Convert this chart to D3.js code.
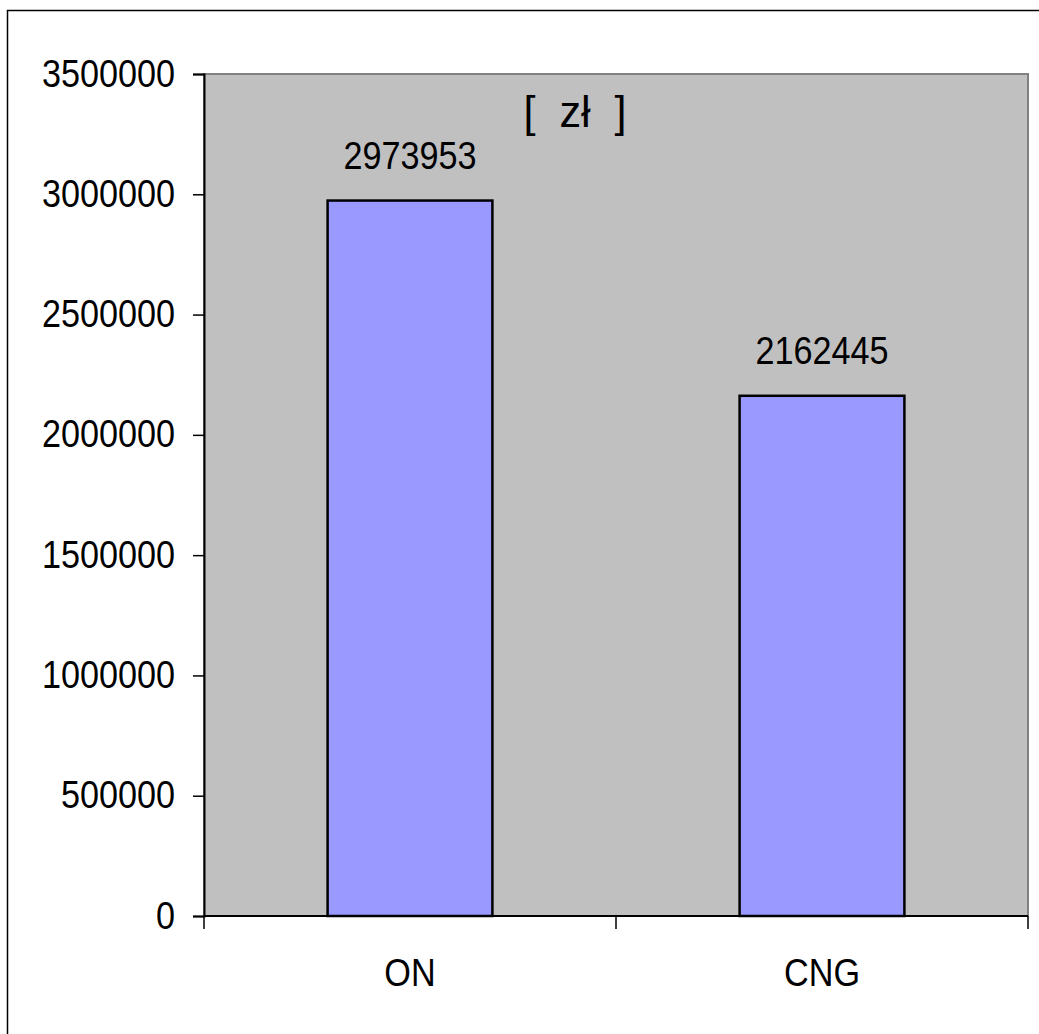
<!DOCTYPE html>
<html>
<head>
<meta charset="utf-8">
<script src="https://cdn.jsdelivr.net/npm/d3@7/dist/d3.min.js"></script>
<style>
  html, body { margin: 0; padding: 0; background: #ffffff; }
  svg { display: block; }
  text { font-family: "Liberation Sans", Arial, sans-serif; fill: #000; }
</style>
</head>
<body>
<svg id="chart" width="1039" height="1034"></svg>
<script>
// Fuel cost comparison, values in złoty
const categories = ["ON", "CNG"];
const values = [2973953, 2162445];
const yTicks = [0, 500000, 1000000, 1500000, 2000000, 2500000, 3000000, 3500000];
const unitLabel = "[  zł  ]";

const svg = d3.select("#chart");
const W = 1039, H = 1034;
const plot = { left: 204, top: 74, right: 1028, bottom: 916 };
const FONT = 38, SX = 0.9;   // slightly condensed glyphs

// Chart frame (runs off the right and bottom edges)
svg.append("rect")
  .attr("x", 7.5).attr("y", 10.5)
  .attr("width", W + 20).attr("height", H + 20)
  .attr("fill", "#fff").attr("stroke", "#000").attr("stroke-width", 1.5);

const x = d3.scaleBand()
  .domain(categories)
  .range([plot.left, plot.right])
  .paddingInner(0.6)
  .paddingOuter(0.3);

const y = d3.scaleLinear()
  .domain([0, 3500000])
  .range([plot.bottom, plot.top]);

// Plot area
svg.append("rect")
  .attr("x", plot.left).attr("y", plot.top)
  .attr("width", plot.right - plot.left).attr("height", plot.bottom - plot.top)
  .attr("fill", "#c0c0c0").attr("stroke", "#808080").attr("stroke-width", 2);

// Bars
svg.selectAll("rect.bar")
  .data(values)
  .join("rect")
  .attr("class", "bar")
  .attr("x", (d, i) => x(categories[i]))
  .attr("y", d => y(d))
  .attr("width", x.bandwidth())
  .attr("height", d => y(0) - y(d))
  .attr("fill", "#9999ff")
  .attr("stroke", "#000").attr("stroke-width", 2.5);

// Y axis
const yAxis = d3.axisLeft(y).tickValues(yTicks).tickSize(11).tickPadding(18)
  .tickFormat(d3.format("d"));
const gy = svg.append("g").attr("transform", `translate(${plot.left},0)`).call(yAxis);
gy.select(".domain").attr("stroke", "#000").attr("stroke-width", 2);
gy.selectAll(".tick line").attr("stroke", "#000").attr("stroke-width", 1.5);
gy.selectAll(".tick text")
  .attr("font-size", FONT).attr("font-family", "Liberation Sans, Arial, sans-serif")
  .attr("dy", null)
  .attr("transform", function() {
    const tx = +d3.select(this).attr("x");
    d3.select(this).attr("x", 0).attr("y", 0);
    return `translate(${tx},12) scale(${SX},1)`;
  });

// X axis: baseline with ticks at band boundaries
const xBounds = [plot.left, (plot.left + plot.right) / 2, plot.right];
svg.append("line")
  .attr("x1", plot.left).attr("x2", plot.right)
  .attr("y1", plot.bottom).attr("y2", plot.bottom)
  .attr("stroke", "#000").attr("stroke-width", 2);
svg.selectAll("line.xtick")
  .data(xBounds)
  .join("line")
  .attr("class", "xtick")
  .attr("x1", d => d).attr("x2", d => d)
  .attr("y1", plot.bottom).attr("y2", plot.bottom + 13)
  .attr("stroke", "#000").attr("stroke-width", 1.5);

svg.selectAll("text.xlabel")
  .data(categories)
  .join("text")
  .attr("class", "xlabel")
  .attr("text-anchor", "middle")
  .attr("font-size", FONT)
  .attr("transform", d => `translate(${x(d) + x.bandwidth() / 2},986) scale(${SX},1)`)
  .text(d => d);

// Value labels
svg.selectAll("text.vlabel")
  .data(values)
  .join("text")
  .attr("class", "vlabel")
  .attr("text-anchor", "middle")
  .attr("font-size", FONT)
  .attr("transform", (d, i) => `translate(${x(categories[i]) + x.bandwidth() / 2},${y(d) - 32}) scale(${SX},1)`)
  .text(d => d3.format("d")(d));

// Unit title
svg.append("text")
  .attr("text-anchor", "middle")
  .attr("font-size", 45)
  .attr("transform", `translate(575,127) scale(0.96,1)`)
  .attr("xml:space", "preserve")
  .style("white-space", "pre")
  .text(unitLabel);
</script>
</body>
</html>
